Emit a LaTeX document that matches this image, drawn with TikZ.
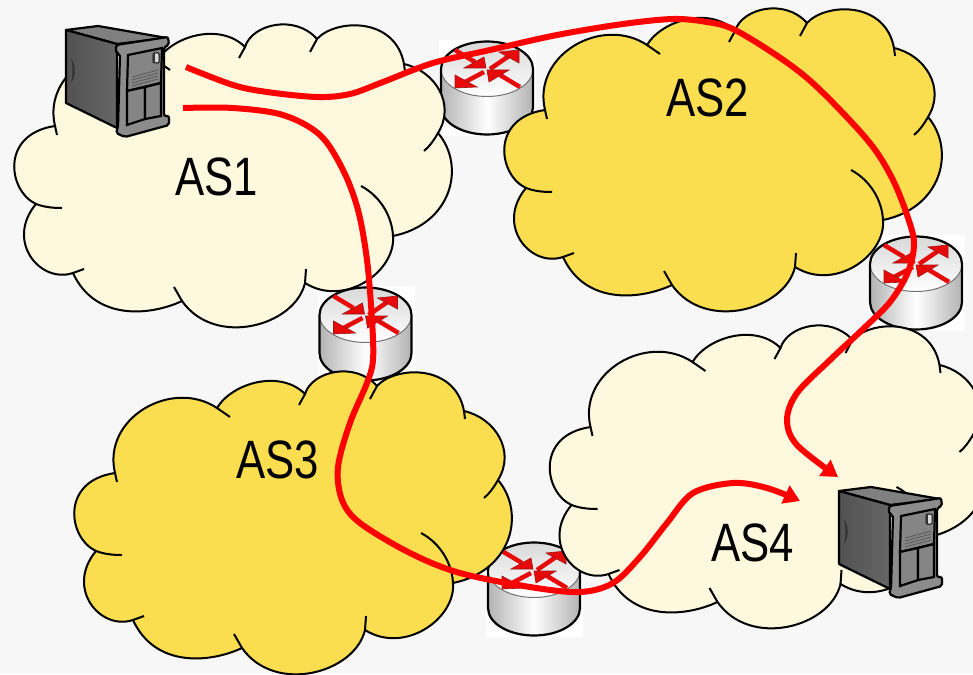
\documentclass[tikz,border=0pt]{standalone}
\usepackage{fontspec}
\usepackage{xcolor}
\usetikzlibrary{arrows.meta}
\newfontfamily\asfont[FakeStretch=0.81]{Liberation Sans}
\definecolor{pagegray}{HTML}{F7F7F7}
\definecolor{aslight}{HTML}{FEF8DF}
\definecolor{asdark}{HTML}{FBDD50}
\definecolor{routered}{HTML}{E60A0A}
\definecolor{routeedge}{HTML}{A01414}
\definecolor{pathred}{HTML}{FF0000}

\tikzset{
  aslabel/.style={inner sep=0pt, font=\asfont\fontsize{54}{54}\selectfont},
  route/.style={draw=pathred, line width=6pt, -{Triangle[length=16pt,width=19pt]}},
  rtrshaft/.style={draw=routered, line width=4.5pt},
  rtrhead/.style={fill=routered, draw=routeedge, line width=0.6pt},
  cloud/.pic={
    \path[pic actions, draw=black, line width=2pt]
      (55,110) .. controls (42,55) and (112,15) .. (157,45)
      .. controls (172,20) and (220,6) .. (245,31)
      .. controls (252,8) and (295,-2) .. (317,23)
      .. controls (335,3) and (395,0) .. (404,48)
      .. controls (435,55) and (456,88) .. (438,117)
      .. controls (466,150) and (452,208) .. (393,220)
      .. controls (396,255) and (345,292) .. (305,267)
      .. controls (295,310) and (215,332) .. (182,285)
      .. controls (150,300) and (95,305) .. (73,257)
      .. controls (40,268) and (5,225) .. (36,188)
      .. controls (8,175) and (0,118) .. (55,110) -- cycle;
    % the short inner strokes
    \draw[line width=2pt]
      (55,110) -- (57,119)
      (157,45) -- (170,54)
      (239,42) -- (245,31)
      (317,23) -- (310,36)
      (404,48) -- (405,56)
      (438,117) .. controls (434,124) and (430,130) .. (424,135)
      (361,170) .. controls (380,180) and (392,200) .. (393,220)
      (305,267) -- (306,253)
      (182,285) -- (174,271)
      (73,257) -- (84,253)
      (36,188) .. controls (44,191) and (52,192) .. (62,192);
  },
  router/.pic={
    \fill[white] (-48,-29) rectangle (49,67);
    \shade[left color=black!30, right color=black!30, middle color=white]
      (-46,0) -- (-46,38) arc[start angle=180, end angle=0, x radius=46, y radius=27.5]
      -- (46,0) -- cycle;
    \shade[top color=black!15, bottom color=white] (0,0) ellipse[x radius=46, y radius=27.5];
    \draw[black!55, line width=1pt] (-46,0) arc[start angle=180, end angle=0, x radius=46, y radius=27.5];
    \draw[line width=2.2pt]
      (-46,0) arc[start angle=180, end angle=360, x radius=46, y radius=27.5]
      -- (46,38) arc[start angle=0, end angle=180, x radius=46, y radius=27.5] -- cycle;
    % four arrows on the lid
    \draw[rtrshaft] (-32,-19) -- (-12,-7);
    \path[rtrhead] (-1,-1) -- (-23,-1) -- (-3,-12) -- cycle;
    \draw[rtrshaft] (3,0) -- (22,-13);
    \path[rtrhead] (32,-19) -- (12,-17) -- (32,-6) -- cycle;
    \draw[rtrshaft] (-3,3) -- (-22,13);
    \path[rtrhead] (-32,19) -- (-32,6) -- (-10,18) -- cycle;
    \draw[rtrshaft] (33,18) -- (13,6);
    \path[rtrhead] (0,1) -- (22,1) -- (2,13) -- cycle;
  },
  server/.pic={
    \path[fill=black!50, draw=black, line width=2.2pt, line join=round]
      (1,4) -- (33,0) -- (102,12) -- (52,18) -- cycle;
    \shade[left color=black!68, right color=black!60]
      (1,4) -- (52,18) -- (52,102) -- (1,77) -- cycle;
    \draw[line width=2.2pt, line join=round]
      (1,4) -- (52,18) -- (52,102) -- (1,77) -- cycle;
    \fill[black!80] (6,32) .. controls (11,40) and (11,50) .. (6,57)
      .. controls (8,50) and (8,40) .. (6,32);
    \path[fill=black!45, draw=black, line width=2.2pt, rounded corners=2pt]
      (51,19) -- (103,11) -- (104,19) -- (99,21) -- (99,90) -- (104,90) -- (104,99)
      -- (60,111) -- (51,107) -- (53,101) -- (55,28) -- (51,27) -- cycle;
    \draw[line width=2.2pt, fill=black!48] (63,29) -- (97,22) -- (96,57) -- (62,65) -- cycle;
    \draw[line width=2.2pt, fill=black!48] (62,65) -- (80,61) -- (80,93) -- (62,99) -- cycle;
    \draw[line width=2.2pt, fill=black!48] (80,61) -- (96,57) -- (96,90) -- (80,93) -- cycle;
    \draw[black!65, line width=0.8pt]
      (67,51) -- (93,44)
      (67,54) -- (93,47)
      (67,57) -- (93,50)
      (67,60) -- (93,53);
    \draw[fill=black!15, line width=1pt, rounded corners=1pt] (88,27) rectangle (94,37);
    \fill[black!80] (88,27) rectangle (90,37);
  }
}

\begin{document}
\begin{tikzpicture}[x=1pt, y=-1pt]
  \useasboundingbox (0,0) rectangle (973,674);
  \fill[pagegray] (0,0) rectangle (973,674);
  \clip (0,0) rectangle (973,674);

  \pic (rtrtop) at (487,69) {router};
  \pic (rtrmid) at (365.5,315) {router};
  \pic (rtrbot) at (534,570) {router};
  \pic (rtrright) at (916,264) {router};

  \pic[fill=aslight] (cloudone) at (0,16) {cloud};
  \pic[fill=asdark] (cloudtwo) at (490,0) {cloud};
  \pic[fill=asdark] (cloudthree) at (60,363) {cloud};
  \pic[fill=aslight] (cloudfour) at (535.5,317) {cloud};

  \node[aslabel] (asone) at (216.5,177) {AS1};
  \node[aslabel] (astwo) at (707.5,97.5) {AS2};
  \node[aslabel] (asthree) at (277.5,460) {AS3};
  \node[aslabel] (asfour) at (752.5,543) {AS4};

  \pic (srvone) at (65,26) {server};
  \pic (srvtwo) at (838,487) {server};

  \coordinate (srcupper) at (186,67);
  \coordinate (srclower) at (183,108);
  \coordinate (tipright) at (838,477);
  \coordinate (tipleft) at (800,501);

  \draw[route] plot[smooth, tension=0.55] coordinates {(srcupper) (233,85) (267,92) (317,97) (350,94) (383,82) (433,63)
    (490,50) (557,35) (623,24) (673,19) (707,22) (733,29) (773,53) (807,78) (841,111) (873,147) (893,180) (907,215) (914,243) (908,272) (890,302)
    (862,330) (830,360) (797,393) (787,420) (797,445) (tipright)};
  \draw[route] plot[smooth, tension=0.55] coordinates {(srclower) (233,108) (283,115) (320,135) (343,170)
    (358,210) (367,260) (372,320) (373,360) (367,383) (350,423) (338,467) (342,500) (360,523)
    (410,553) (460,573) (530,587) (580,592) (613,583) (640,557) (667,523) (693,493) (733,483)
    (767,488) (tipleft)};
\end{tikzpicture}
\end{document}
